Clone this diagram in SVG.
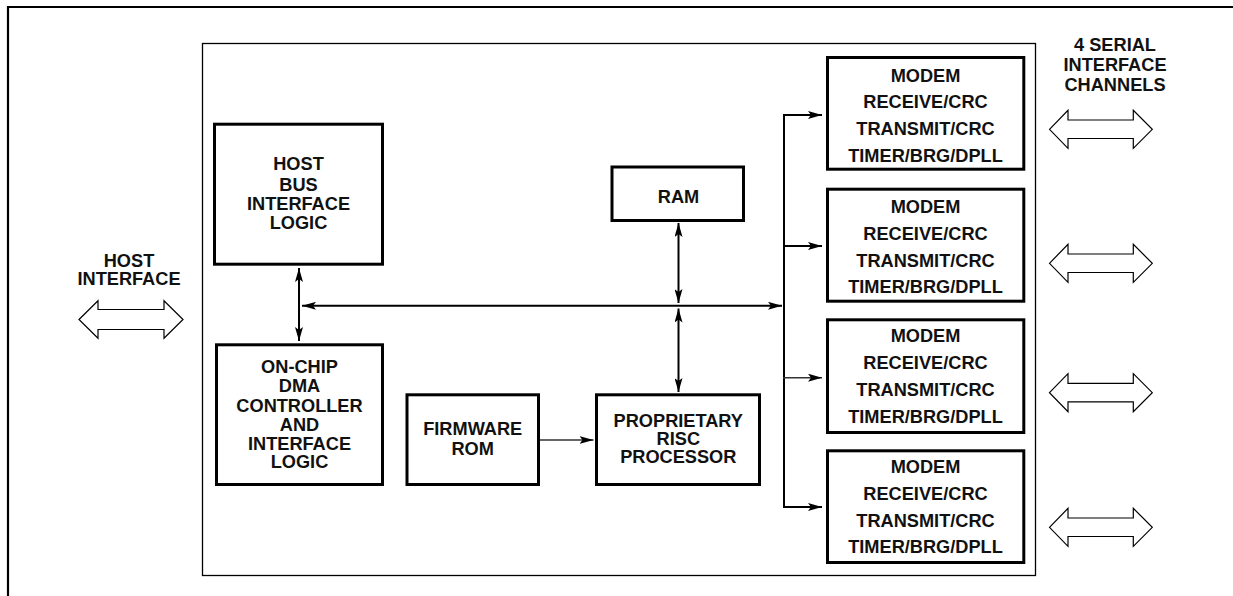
<svg xmlns="http://www.w3.org/2000/svg" width="1233" height="596" viewBox="0 0 1233 596">
<style>
.box{fill:#fff;stroke:#000;stroke-width:3}
.frame{fill:none;stroke:#000;stroke-width:2.2}
.inner{fill:none;stroke:#000;stroke-width:1.3}
.dbl{fill:#fff;stroke:#000;stroke-width:1.2;stroke-linejoin:miter}
.t{font-family:"Liberation Sans",Arial,sans-serif;font-weight:bold;font-size:18.2px;text-anchor:middle;fill:#111}
.conn{stroke:#000;stroke-width:2;fill:none}
.thin{stroke:#333;stroke-width:1.4;fill:none}
</style>
<defs>
<marker id="ah" markerUnits="userSpaceOnUse" viewBox="0 0 14 8" refX="14" refY="4" markerWidth="14" markerHeight="8" orient="auto-start-reverse">
<path d="M0,0 L14,4 L0,8 L3,4 z" fill="#000"/>
</marker>
</defs>
<rect width="1233" height="596" fill="#fff"/>
<g id="frame">
<path class="frame" d="M8,596 V7 H1233"/>
<rect class="inner" x="202.5" y="43.5" width="833" height="532"/>
</g>
<g id="host-interface">
<text class="t" x="129" y="266.5">HOST</text>
<text class="t" x="129" y="284.5">INTERFACE</text>
<path class="dbl" d="M79,319.5 L98,300.7 L98,309.5 L164,309.5 L164,300.7 L183,319.5 L164,338.3 L164,329.5 L98,329.5 L98,338.3 Z"/>
</g>
<g id="host-bus">
<rect class="box" x="214.5" y="124.2" width="168" height="140"/>
<text class="t" x="298.5" y="169.5">HOST</text>
<text class="t" x="298.5" y="190.5">BUS</text>
<text class="t" x="298.5" y="210">INTERFACE</text>
<text class="t" x="298.5" y="229">LOGIC</text>
</g>
<g id="dma">
<rect class="box" x="216.5" y="344.8" width="166" height="139.7"/>
<text class="t" x="299.5" y="372.5">ON-CHIP</text>
<text class="t" x="299.5" y="392">DMA</text>
<text class="t" x="299.5" y="411.5">CONTROLLER</text>
<text class="t" x="299.5" y="430.5">AND</text>
<text class="t" x="299.5" y="449.5">INTERFACE</text>
<text class="t" x="299.5" y="468">LOGIC</text>
</g>
<g id="ram">
<rect class="box" x="612" y="167" width="131.5" height="53.5"/>
<text class="t" x="678.5" y="202.5">RAM</text>
</g>
<g id="firmware-rom">
<rect class="box" x="407" y="394.8" width="131.5" height="89.7"/>
<text class="t" x="472.7" y="434.8">FIRMWARE</text>
<text class="t" x="472.7" y="454.8">ROM</text>
</g>
<g id="risc">
<rect class="box" x="596.5" y="394.8" width="163" height="89.7"/>
<text class="t" x="678.3" y="426.5">PROPRIETARY</text>
<text class="t" x="678.3" y="444.8">RISC</text>
<text class="t" x="678.3" y="463.2">PROCESSOR</text>
</g>
<g id="modem1">
<rect class="box" x="827.5" y="57.5" width="196.3" height="111.7"/>
<text class="t" x="925.5" y="81.5">MODEM</text>
<text class="t" x="925.5" y="108.2">RECEIVE/CRC</text>
<text class="t" x="925.5" y="134.8">TRANSMIT/CRC</text>
<text class="t" x="925.5" y="161.5">TIMER/BRG/DPLL</text>
</g>
<g id="modem2">
<rect class="box" x="827.5" y="189.2" width="196.3" height="112"/>
<text class="t" x="925.5" y="213.2">MODEM</text>
<text class="t" x="925.5" y="239.8">RECEIVE/CRC</text>
<text class="t" x="925.5" y="266.5">TRANSMIT/CRC</text>
<text class="t" x="925.5" y="293.2">TIMER/BRG/DPLL</text>
</g>
<g id="modem3">
<rect class="box" x="827.5" y="319.8" width="196.3" height="112.7"/>
<text class="t" x="925.5" y="342.2">MODEM</text>
<text class="t" x="925.5" y="369.2">RECEIVE/CRC</text>
<text class="t" x="925.5" y="395.8">TRANSMIT/CRC</text>
<text class="t" x="925.5" y="422.5">TIMER/BRG/DPLL</text>
</g>
<g id="modem4">
<rect class="box" x="827.5" y="450.8" width="196.3" height="111.7"/>
<text class="t" x="925.5" y="472.5">MODEM</text>
<text class="t" x="925.5" y="499.8">RECEIVE/CRC</text>
<text class="t" x="925.5" y="526.5">TRANSMIT/CRC</text>
<text class="t" x="925.5" y="553.2">TIMER/BRG/DPLL</text>
</g>
<g id="serial-channels">
<text class="t" x="1115" y="50.8">4 SERIAL</text>
<text class="t" x="1115" y="71">INTERFACE</text>
<text class="t" x="1115" y="90.5">CHANNELS</text>
<path class="dbl" d="M1049.5,129.3 L1068,110.3 L1068,120 L1133.3,120 L1133.3,110.3 L1152.3,129.3 L1133.3,148.3 L1133.3,138.5 L1068,138.5 L1068,148.3 Z"/>
<path class="dbl" d="M1049.5,263.3 L1068,244.3 L1068,254 L1133.3,254 L1133.3,244.3 L1152.3,263.3 L1133.3,282.3 L1133.3,272.5 L1068,272.5 L1068,282.3 Z"/>
<path class="dbl" d="M1049.5,392.7 L1068,373.7 L1068,383.4 L1133.3,383.4 L1133.3,373.7 L1152.3,392.7 L1133.3,411.7 L1133.3,401.9 L1068,401.9 L1068,411.7 Z"/>
<path class="dbl" d="M1049.5,527.3 L1068,508.3 L1068,518 L1133.3,518 L1133.3,508.3 L1152.3,527.3 L1133.3,546.3 L1133.3,536.5 L1068,536.5 L1068,546.3 Z"/>
</g>
<g id="connectors">
<line class="conn" x1="299" y1="268" x2="299" y2="341" marker-start="url(#ah)" marker-end="url(#ah)"/>
<line class="conn" x1="302" y1="305.8" x2="782" y2="305.8" marker-start="url(#ah)" marker-end="url(#ah)"/>
<line class="conn" x1="678.5" y1="223" x2="678.5" y2="303" marker-start="url(#ah)" marker-end="url(#ah)"/>
<line class="conn" x1="678.5" y1="308.5" x2="678.5" y2="392" marker-start="url(#ah)" marker-end="url(#ah)"/>
<line class="thin" x1="540" y1="440" x2="593.5" y2="440" marker-end="url(#ah)"/>
<path class="conn" d="M784,115 V507"/>
<line class="conn" x1="783" y1="115" x2="822" y2="115" marker-end="url(#ah)"/>
<line class="conn" x1="783" y1="246" x2="822" y2="246" marker-end="url(#ah)"/>
<line class="thin" x1="783" y1="377.7" x2="822" y2="377.7" marker-end="url(#ah)"/>
<line class="conn" x1="783" y1="507" x2="822" y2="507" marker-end="url(#ah)"/>
</g>
</svg>
